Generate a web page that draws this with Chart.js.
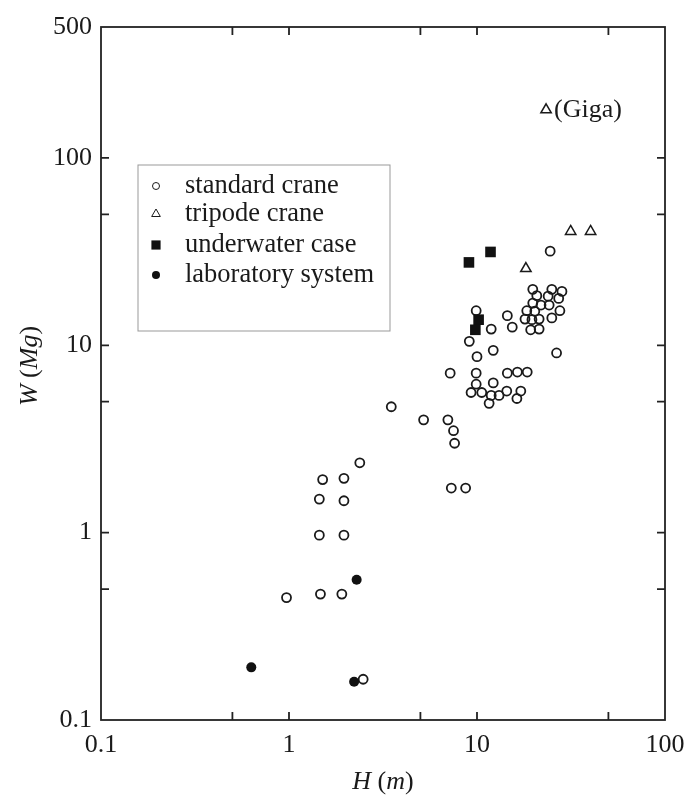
<!DOCTYPE html>
<html>
<head>
<meta charset="utf-8">
<script src="https://cdn.jsdelivr.net/npm/chart.js@4.4.1/dist/chart.umd.min.js"></script>
<style>
html, body { margin: 0; padding: 0; background: #fff; }
canvas { display: block; }
</style>
</head>
<body>
<canvas id="craneChart" width="684" height="796"></canvas>
<script>
// Dane: H (m) i W (Mg) dla każdej grupy
const standardH = [24.5, 19.8, 25.0, 28.3, 20.8, 23.9, 27.2, 19.8, 21.9, 24.2, 27.6, 18.4, 20.3, 9.9, 14.5, 18.0, 19.6, 21.4, 25.0, 11.9,
  15.4, 19.3, 21.4, 9.1, 12.2, 10.0, 26.5, 7.2, 9.9, 14.5, 16.4, 18.5, 9.9, 12.2, 9.3, 10.6, 11.9, 13.1, 14.4, 17.1,
  16.3, 11.6, 5.2, 7.0, 7.5, 7.6, 3.5, 2.38, 1.51, 1.96, 1.45, 1.96, 1.45, 1.96, 7.3, 8.7, 0.97, 1.47, 1.91, 2.48];
const standardW = [31.8, 19.9, 19.9, 19.4, 18.4, 18.3, 17.8, 16.8, 16.4, 16.4, 15.3, 15.3, 15.2, 15.3, 14.4, 13.8, 13.7, 13.8, 14.0, 12.2,
  12.5, 12.1, 12.2, 10.5, 9.4, 8.7, 9.1, 7.1, 7.1, 7.1, 7.2, 7.2, 6.2, 6.3, 5.6, 5.6, 5.4, 5.4, 5.7, 5.7,
  5.2, 4.9, 4.0, 4.0, 3.5, 3.0, 4.7, 2.36, 1.92, 1.95, 1.51, 1.48, 0.97, 0.97, 1.73, 1.73, 0.45, 0.47, 0.47, 0.165];
const tripodeH = [18.2, 31.5, 40.2, 23.3];
const tripodeW = [25.7, 40.5, 40.5, 180.6];
const underwaterH = [9.06, 11.8, 10.2, 9.8];
const underwaterW = [27.7, 31.5, 13.7, 12.1];
const labH = [2.29, 0.63, 2.22];
const labW = [0.56, 0.191, 0.160];

const xTickValues = [0.1, 0.5, 1, 5, 10, 50, 100];
const yTickValues = [0.1, 0.5, 1, 5, 10, 50, 100, 500];
const xLabelled = [0.1, 1, 10, 100];
const yLabelled = [0.1, 1, 10, 100, 500];

const toPoints = (hs, ws) => hs.map((h, i) => ({ x: h, y: ws[i] }));
const INK = '#1a1a1a';
const SERIF = "'Liberation Serif', 'Times New Roman', serif";

// Ramka, wewnętrzne kreski osi, legenda, podpisy
const framePlugin = {
  id: 'frame',
  afterDraw(chart) {
    const { ctx, chartArea: a, scales } = chart;
    ctx.save();
    ctx.strokeStyle = '#222';
    ctx.lineWidth = 1.8;
    ctx.strokeRect(a.left, a.top, a.right - a.left, a.bottom - a.top);
    const len = 8;
    ctx.beginPath();
    xTickValues.slice(1, -1).forEach(v => {
      const px = scales.x.getPixelForValue(v);
      ctx.moveTo(px, a.bottom); ctx.lineTo(px, a.bottom - len);
      ctx.moveTo(px, a.top); ctx.lineTo(px, a.top + len);
    });
    yTickValues.slice(1, -1).forEach(v => {
      const py = scales.y.getPixelForValue(v);
      ctx.moveTo(a.left, py); ctx.lineTo(a.left + len, py);
      ctx.moveTo(a.right, py); ctx.lineTo(a.right - len, py);
    });
    ctx.stroke();

    // Adnotacja (Giga)
    const gx = scales.x.getPixelForValue(tripodeH[3]);
    const gy = scales.y.getPixelForValue(tripodeW[3]);
    ctx.fillStyle = INK;
    ctx.font = '26px ' + SERIF;
    ctx.textBaseline = 'middle';
    ctx.textAlign = 'left';
    ctx.fillText('(Giga)', gx + 8, gy);

    // Legenda
    const box = { x: 138, y: 165, w: 252, h: 166 };
    ctx.fillStyle = '#fff';
    ctx.fillRect(box.x, box.y, box.w, box.h);
    ctx.strokeStyle = '#999';
    ctx.lineWidth = 1;
    ctx.strokeRect(box.x, box.y, box.w, box.h);
    const rows = [186, 214, 245, 275];
    chart.data.datasets.forEach((ds, i) => {
      const y = rows[i];
      ctx.fillStyle = ds.backgroundColor;
      ctx.strokeStyle = ds.borderColor;
      Chart.helpers.drawPoint(ctx, {
        pointStyle: ds.pointStyle,
        radius: ds.legendRadius,
        borderWidth: ds.borderWidth,
        rotation: 0
      }, 156, y);
      ctx.fillStyle = INK;
      ctx.font = '26.5px ' + SERIF;
      ctx.textAlign = 'left';
      ctx.textBaseline = 'middle';
      ctx.fillText(ds.label, 185, y);
    });

    // Tytuły osi (kursywa dla symboli)
    const drawParts = (parts, cx, cy) => {
      let total = 0;
      parts.forEach(p => {
        ctx.font = p[1] + ' 26px ' + SERIF;
        total += ctx.measureText(p[0]).width;
      });
      let x = cx - total / 2;
      parts.forEach(p => {
        ctx.font = p[1] + ' 26px ' + SERIF;
        ctx.fillText(p[0], x, cy);
        x += ctx.measureText(p[0]).width;
      });
    };
    ctx.fillStyle = INK;
    ctx.textAlign = 'left';
    ctx.textBaseline = 'middle';
    drawParts([['H', 'italic'], [' (', 'normal'], ['m', 'italic'], [')', 'normal']], (a.left + a.right) / 2, 782);
    ctx.save();
    ctx.translate(30, 366);
    ctx.rotate(-Math.PI / 2);
    drawParts([['W', 'italic'], [' (', 'normal'], ['Mg', 'italic'], [')', 'normal']], 0, 0);
    ctx.restore();
    ctx.restore();
  }
};

const ctxCrane = document.getElementById('craneChart').getContext('2d');

const craneChart = new Chart(ctxCrane, {
  type: 'scatter',
  data: {
    datasets: [
      {
        label: 'standard crane',
        data: toPoints(standardH, standardW),
        pointStyle: 'circle',
        pointRadius: 4.5,
        legendRadius: 3.5,
        borderWidth: 1.8,
        borderColor: INK,
        backgroundColor: 'rgba(0,0,0,0)',
        order: 4
      },
      {
        label: 'tripode crane',
        data: toPoints(tripodeH, tripodeW),
        pointStyle: 'triangle',
        pointRadius: 6,
        legendRadius: 5,
        borderWidth: 1.5,
        borderColor: INK,
        backgroundColor: 'rgba(0,0,0,0)',
        order: 3
      },
      {
        label: 'underwater case',
        data: toPoints(underwaterH, underwaterW),
        pointStyle: 'rect',
        pointRadius: 7.5,
        legendRadius: 6.5,
        borderWidth: 0,
        borderColor: INK,
        backgroundColor: '#111',
        order: 2
      },
      {
        label: 'laboratory system',
        data: toPoints(labH, labW),
        pointStyle: 'circle',
        pointRadius: 5,
        legendRadius: 4,
        borderWidth: 0,
        borderColor: INK,
        backgroundColor: '#111',
        order: 1
      }
    ]
  },
  options: {
    responsive: false,
    animation: false,
    events: [],
    layout: { padding: { top: 27, right: 19, left: 0, bottom: 0 } },
    plugins: {
      legend: { display: false },
      tooltip: { enabled: false }
    },
    scales: {
      x: {
        type: 'logarithmic',
        min: 0.1,
        max: 100,
        grid: { display: false, drawTicks: false },
        border: { display: false },
        afterBuildTicks: axis => { axis.ticks = xTickValues.map(v => ({ value: v })); },
        afterFit: axis => { axis.height = 76; axis.paddingLeft = 0; axis.paddingRight = 0; },
        ticks: {
          autoSkip: false,
          maxRotation: 0,
          padding: 10,
          color: INK,
          font: { family: SERIF, size: 26 },
          callback: v => xLabelled.includes(v) ? String(v) : ''
        }
      },
      y: {
        type: 'logarithmic',
        min: 0.1,
        max: 500,
        grid: { display: false, drawTicks: false },
        border: { display: false },
        afterBuildTicks: axis => { axis.ticks = yTickValues.map(v => ({ value: v })); },
        afterFit: axis => { axis.width = 101; axis.paddingTop = 0; axis.paddingBottom = 0; },
        ticks: {
          autoSkip: false,
          padding: 9,
          color: INK,
          font: { family: SERIF, size: 26 },
          callback: v => yLabelled.includes(v) ? String(v) : ''
        }
      }
    }
  },
  plugins: [framePlugin]
});
</script>
</body>
</html>
